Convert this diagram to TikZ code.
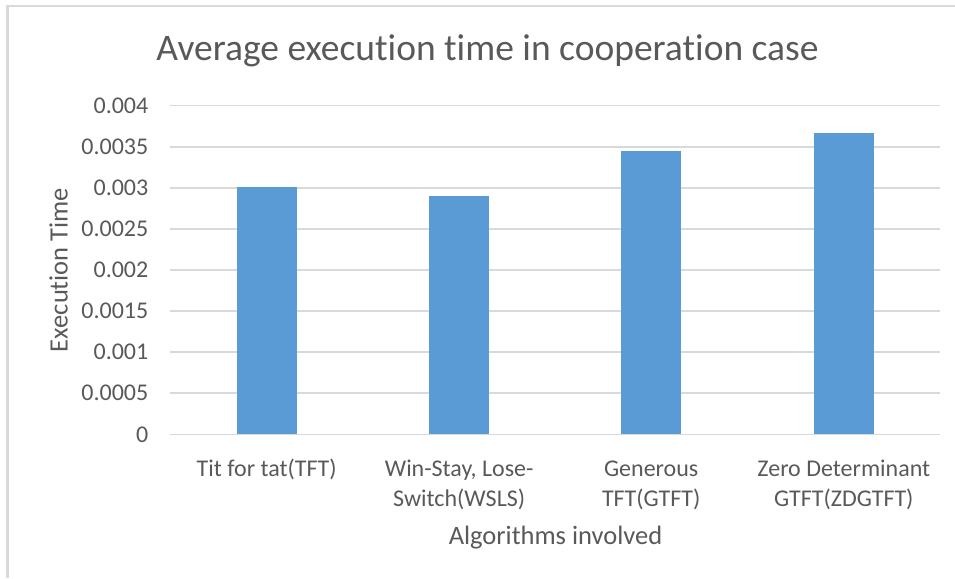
\documentclass[tikz,border=0pt]{standalone}
\usepackage{fontspec}
\setmainfont[Ligatures=NoCommon]{Carlito}
\usepackage{tikz}
\usetikzlibrary{positioning}
\definecolor{barblue}{HTML}{5B9BD5}
\definecolor{labelgray}{HTML}{595959}
\definecolor{gridgray}{HTML}{D9D9D9}
\tikzset{
  gridline/.style={draw=gridgray, line width=1.5pt},
  frameline/.style={draw=gridgray, line width=2.5pt},
  bar/.style={fill=barblue},
  ticklabel/.style={anchor=east, inner sep=0pt, text=labelgray, font=\fontsize{24}{29}\selectfont},
  catlabel/.style={anchor=north, inner sep=0pt, align=center, text=labelgray, font=\fontsize{24}{30}\selectfont},
  axistitle/.style={inner sep=0pt, text=labelgray, font=\fontsize{26.5}{32}\selectfont},
}

\begin{document}
\begin{tikzpicture}[x=1pt, y=-1pt]
      \useasboundingbox (0,0) rectangle (955,578);
      \draw[frameline] (7.5,578) -- (7.5,6) -- (955,6) ;
      \draw[gridline] (170,434.3) -- (940,434.3) ;
      \draw[gridline] (170,393.2) -- (940,393.2) ;
      \draw[gridline] (170,352.2) -- (940,352.2) ;
      \draw[gridline] (170,311.1) -- (940,311.1) ;
      \draw[gridline] (170,270.0) -- (940,270.0) ;
      \draw[gridline] (170,228.9) -- (940,228.9) ;
      \draw[gridline] (170,187.9) -- (940,187.9) ;
      \draw[gridline] (170,146.8) -- (940,146.8) ;
      \draw[gridline] (170,105.7) -- (940,105.7) ;
      \fill[bar] (236.7,434.3) rectangle (296.7,187.3) ;
      \fill[bar] (429.2,434.3) rectangle (489.2,195.7) ;
      \fill[bar] (621.2,434.3) rectangle (681.2,151.0) ;
      \fill[bar] (813.8,434.3) rectangle (873.8,133.3) ;
      \node[ticklabel] (t0) at (148.5,434.3) {0};
      \node[ticklabel] (t1) at (148.5,393.2) {0.0005};
      \node[ticklabel] (t2) at (148.5,352.2) {0.001};
      \node[ticklabel] (t3) at (148.5,311.1) {0.0015};
      \node[ticklabel] (t4) at (148.5,270.0) {0.002};
      \node[ticklabel] (t5) at (148.5,228.9) {0.0025};
      \node[ticklabel] (t6) at (148.5,187.9) {0.003};
      \node[ticklabel] (t7) at (148.5,146.8) {0.0035};
      \node[ticklabel] (t8) at (148.5,105.7) {0.004};
      \node[catlabel] (tft) at (266.7,455) {\strut Tit for tat(TFT)};
      \node[catlabel] (wsls) at (459.2,455) {\strut Win-Stay, Lose-\\Switch(WSLS)};
      \node[catlabel] (gtft) at (651.2,455) {\strut Generous\\TFT(GTFT)};
      \node[catlabel] (zdgtft) at (843.8,455) {\strut Zero Determinant\\GTFT(ZDGTFT)};
      \node[axistitle, anchor=base] (xtitle) at (555.5,544) {Algorithms involved};
      \node[axistitle, rotate=90] (ytitle) at (58.5,270) {Execution Time};
      \node[inner sep=0pt, anchor=base, text=labelgray, font=\fontsize{37.5}{44}\selectfont] (title) at (487.5,60) {Average execution time in cooperation case};
    \end{tikzpicture}
\end{document}
